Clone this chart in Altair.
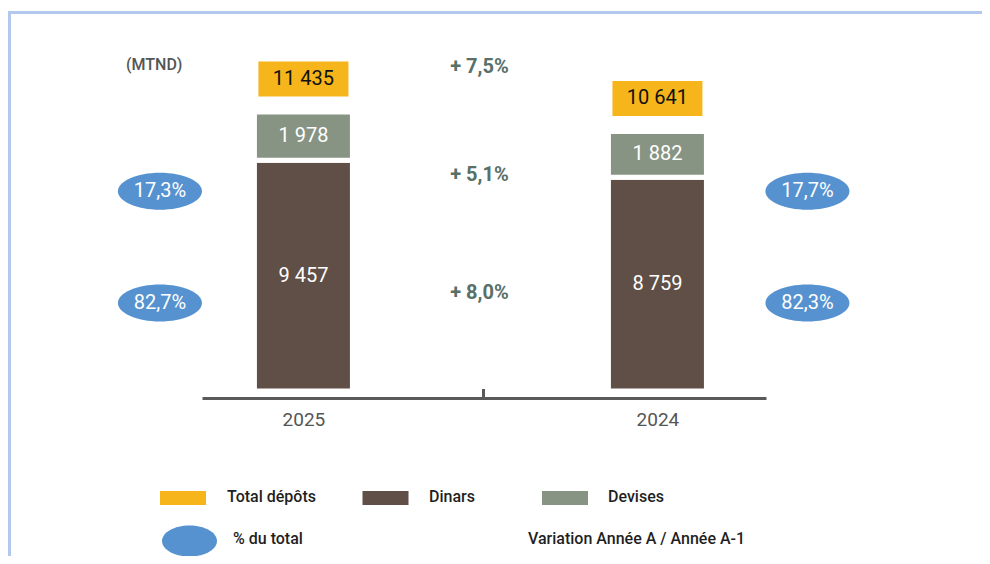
import altair as alt
import pandas as pd

# ---------------- data ----------------
annees = ["2025", "2024"]
dinars = [9457, 8759]
devises = [1978, 1882]
totaux = [11435, 10641]
part_dinars = ["82,7%", "82,3%"]
part_devises = ["17,3%", "17,7%"]
var_segments = ["Total", "Devises", "Dinars"]
variations = ["+ 7,5%", "+ 5,1%", "+ 8,0%"]
legende_haut = ["Total dépôts", "Dinars", "Devises"]
legende_bas = ["% du total", "Variation Année A / Année A-1"]
unite = "(MTND)"

# ---------------- style ----------------
FONT = "Roboto"
ORANGE = "#f6b51b"
BRUN = "#5f4f46"
VERT = "#879483"
BLEU = "#5692cf"
VARC = "#587068"
AXE = "#5a5a5a"
BORD = "#b4c7ec"
W, H = 974, 383
D = 15700

BOX = "M-1,-0.389L1,-0.389L1,0.389L-1,0.389Z"
ELL = "M-1,0A1,0.44,0,1,1,1,0A1,0.44,0,1,1,-1,0Z"
LRECT = "M-1,-0.304L1,-0.304L1,0.304L-1,0.304Z"
LELL = "M-1,0A1,0.5636,0,1,1,1,0A1,0.5636,0,1,1,-1,0Z"


def fmt(v):
    return f"{v:,}".replace(",", " ")


rows = []
for a, d, v in zip(annees, dinars, devises):
    rows.append(dict(annee=a, segment="Dinars", y0=0, y1=d, label=fmt(d)))
    rows.append(dict(annee=a, segment="Devises", y0=d, y1=d + v, label=fmt(v)))
seg = pd.DataFrame(rows)
seg["ymid"] = (seg["y0"] + seg["y1"]) / 2

tot = pd.DataFrame(dict(annee=annees, total=totaux, label=[fmt(t) for t in totaux]))

mid = {
    "Dinars": sum(d / 2 for d in dinars) / len(dinars),
    "Devises": sum(d + v / 2 for d, v in zip(dinars, devises)) / len(dinars),
    "Total": sum(totaux) / len(totaux),
}

xs = alt.Scale(type="point", domain=annees, range=[194, 758], padding=0.2966, align=0.483)
ys = alt.Scale(domain=[0, D], nice=False, zero=True)
X = alt.X(
    "annee:N",
    scale=xs,
    sort=annees,
    axis=alt.Axis(
        title=None, domain=True, domainWidth=3, domainColor=AXE, ticks=False,
        labelAngle=0, labelFontSize=19, labelColor="#555555", labelFont=FONT,
        labelPadding=12, offset=7, grid=False,
    ),
)

layers = []

# borders
one = pd.DataFrame({"k": [0]})
layers.append(alt.Chart(one).mark_rule(color=BORD, strokeWidth=3).encode(
    x=alt.value(0), x2=alt.value(W), y=alt.value(4.5)))
layers.append(alt.Chart(one).mark_rule(color=BORD, strokeWidth=3).encode(
    x=alt.value(1.5), y=alt.value(3), y2=alt.value(560)))

# bars
bars = alt.Chart(seg).mark_bar(size=98, stroke="white", strokeWidth=5).encode(
    x=X,
    y=alt.Y("y0:Q", scale=ys, axis=None),
    y2="y1:Q",
    color=alt.Color("segment:N", scale=alt.Scale(domain=["Dinars", "Devises"], range=[BRUN, VERT]), legend=None),
)
layers.append(bars)
layers.append(alt.Chart(seg).mark_text(color="white", fontSize=20, font=FONT, baseline="middle").encode(
    x=X, y=alt.Y("ymid:Q", scale=ys, axis=None), text="label:N"))

# totals
layers.append(alt.Chart(tot).mark_point(shape=BOX, size=8100, filled=True, color=ORANGE, opacity=1,
                                        strokeWidth=0, yOffset=-33).encode(
    x=X, y=alt.Y("total:Q", scale=ys, axis=None)))
layers.append(alt.Chart(tot).mark_text(color="#111111", fontSize=20, font=FONT,
                                       baseline="middle", yOffset=-33).encode(
    x=X, y=alt.Y("total:Q", scale=ys, axis=None), text="label:N"))

# middle tick on the axis
layers.append(alt.Chart(one).mark_rule(color=AXE, strokeWidth=3).encode(
    x=alt.value(475.5), y=alt.value(381), y2=alt.value(390)))


# share ellipses
def pastille(i, label, yval, dx, dy):
    df = pd.DataFrame({"annee": [annees[i]], "y": [yval], "t": [label]})
    base = alt.Chart(df).encode(x=X, y=alt.Y("y:Q", scale=ys, axis=None))
    e = base.mark_point(shape=ELL, size=7056, filled=True, color=BLEU, opacity=1, strokeWidth=0,
                        xOffset=dx, yOffset=dy)
    t = base.mark_text(color="white", fontSize=20, font=FONT, baseline="middle",
                       xOffset=dx, yOffset=dy).encode(text="t:N")
    return [e, t]


for i, dx in [(0, -143.5), (1, 150)]:
    layers += pastille(i, part_devises[i], mid["Devises"], dx, 46)
    layers += pastille(i, part_dinars[i], mid["Dinars"], dx, 23)

# variation labels
var_dy = {"Total": -55, "Devises": 30, "Dinars": 13}
for s, v in zip(var_segments, variations):
    df = pd.DataFrame({"annee": [annees[0]], "y": [mid[s]], "t": [v]})
    layers.append(alt.Chart(df).mark_text(color=VARC, fontSize=20, font=FONT, fontWeight="bold",
                                          baseline="middle", xOffset=176, yOffset=var_dy[s]).encode(
        x=X, y=alt.Y("y:Q", scale=ys, axis=None), text="t:N"))

# unit label
layers.append(alt.Chart(pd.DataFrame({"t": [unite]})).mark_text(
    color="#555555", fontSize=16, font=FONT, fontWeight=500, align="left", baseline="middle").encode(
    x=alt.value(118), y=alt.value(56.5), text="t:N"))

# custom legend
leg_cols = [ORANGE, BRUN, VERT]
leg_sym_x = [175, 377.5, 557]
leg_txt_x = [219, 421, 600]
for lab, col, sx, tx in zip(legende_haut, leg_cols, leg_sym_x, leg_txt_x):
    d1 = pd.DataFrame({"t": [lab]})
    layers.append(alt.Chart(d1).mark_point(shape=LRECT, size=2116, filled=True, color=col, opacity=1,
                                           strokeWidth=0).encode(x=alt.value(sx), y=alt.value(490)))
    layers.append(alt.Chart(d1).mark_text(color="#1f1f1f", fontSize=16, font=FONT, fontWeight=500,
                                          align="left", baseline="alphabetic").encode(
        x=alt.value(tx), y=alt.value(494), text="t:N"))

d2 = pd.DataFrame({"t": [legende_bas[0]]})
layers.append(alt.Chart(d2).mark_point(shape=LELL, size=3025, filled=True, color=BLEU, opacity=1,
                                       strokeWidth=0).encode(x=alt.value(181.5), y=alt.value(533)))
layers.append(alt.Chart(d2).mark_text(color="#1f1f1f", fontSize=16, font=FONT, fontWeight=500,
                                      align="left", baseline="middle").encode(
    x=alt.value(225), y=alt.value(530.5), text="t:N"))
d3 = pd.DataFrame({"t": [legende_bas[1]]})
layers.append(alt.Chart(d3).mark_text(color="#1f1f1f", fontSize=16, font=FONT, fontWeight=500,
                                      align="left", baseline="middle").encode(
    x=alt.value(520), y=alt.value(530.5), text="t:N"))

chart = alt.layer(*layers).properties(
    width=W,
    height=H,
    padding={"left": 0, "right": 0, "top": 0, "bottom": 165},
    autosize=alt.AutoSizeParams(type="none"),
    background="white",
).configure_view(stroke=None)

chart.save("out.html", embed_options={"renderer": "svg", "actions": False})
